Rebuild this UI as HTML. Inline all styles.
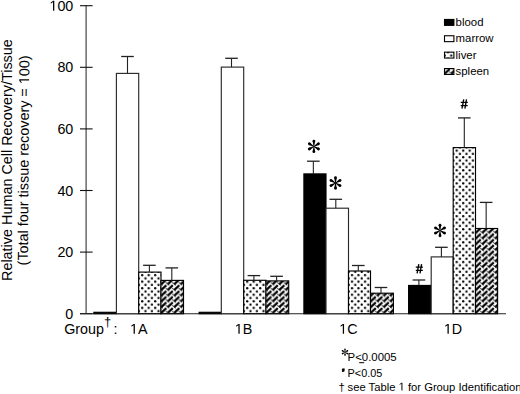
<!DOCTYPE html>
<html><head><meta charset="utf-8"><style>
html,body{margin:0;padding:0;background:#fff;width:520px;height:394px;overflow:hidden}
svg{display:block}
.one{fill-opacity:0}
.t14{font-family:"Liberation Sans",sans-serif;font-size:14.3px;fill:#000}
.ttl{font-family:"Liberation Sans",sans-serif;font-size:14.4px;fill:#000}
.t11{font-family:"Liberation Sans",sans-serif;font-size:11.4px;fill:#000}
.t13{font-family:"Liberation Sans",sans-serif;font-size:13px;fill:#000}
</style></head><body>
<svg width="520" height="394" viewBox="0 0 520 394">
<defs><pattern id="p02" patternUnits="userSpaceOnUse" width="6.5" height="6.55" x="137.325" y="309.485"><circle cx="1.625" cy="1.64" r="1.15" fill="#000"/><circle cx="4.875" cy="4.915" r="1.15" fill="#000"/></pattern><pattern id="p03" patternUnits="userSpaceOnUse" width="6.5" height="5.72" x="161.000" y="307.980"><path d="M-8.20 -2.70 L-4.80 0.40 M-8.20 3.02 L-4.80 6.12 M-8.20 8.74 L-4.80 11.84 M-1.70 -2.70 L1.70 0.40 M-1.70 3.02 L1.70 6.12 M-1.70 8.74 L1.70 11.84 M4.80 -2.70 L8.20 0.40 M4.80 3.02 L8.20 6.12 M4.80 8.74 L8.20 11.84 " stroke="#444" stroke-width="1.0" fill="none"/><path d="M-6.20 -0.90 L-1.20 -5.60 M-6.20 4.82 L-1.20 0.12 M-6.20 10.54 L-1.20 5.84 M0.30 -0.90 L5.30 -5.60 M0.30 4.82 L5.30 0.12 M0.30 10.54 L5.30 5.84 M6.80 -0.90 L11.80 -5.60 M6.80 4.82 L11.80 0.12 M6.80 10.54 L11.80 5.84 " stroke="#000" stroke-width="2.15" fill="none"/></pattern><pattern id="p12" patternUnits="userSpaceOnUse" width="6.5" height="6.55" x="242.325" y="309.485"><circle cx="1.625" cy="1.64" r="1.15" fill="#000"/><circle cx="4.875" cy="4.915" r="1.15" fill="#000"/></pattern><pattern id="p13" patternUnits="userSpaceOnUse" width="6.5" height="5.72" x="266.000" y="307.980"><path d="M-8.20 -2.70 L-4.80 0.40 M-8.20 3.02 L-4.80 6.12 M-8.20 8.74 L-4.80 11.84 M-1.70 -2.70 L1.70 0.40 M-1.70 3.02 L1.70 6.12 M-1.70 8.74 L1.70 11.84 M4.80 -2.70 L8.20 0.40 M4.80 3.02 L8.20 6.12 M4.80 8.74 L8.20 11.84 " stroke="#444" stroke-width="1.0" fill="none"/><path d="M-6.20 -0.90 L-1.20 -5.60 M-6.20 4.82 L-1.20 0.12 M-6.20 10.54 L-1.20 5.84 M0.30 -0.90 L5.30 -5.60 M0.30 4.82 L5.30 0.12 M0.30 10.54 L5.30 5.84 M6.80 -0.90 L11.80 -5.60 M6.80 4.82 L11.80 0.12 M6.80 10.54 L11.80 5.84 " stroke="#000" stroke-width="2.15" fill="none"/></pattern><pattern id="p22" patternUnits="userSpaceOnUse" width="6.5" height="6.55" x="347.125" y="309.485"><circle cx="1.625" cy="1.64" r="1.15" fill="#000"/><circle cx="4.875" cy="4.915" r="1.15" fill="#000"/></pattern><pattern id="p23" patternUnits="userSpaceOnUse" width="6.5" height="5.72" x="370.500" y="307.980"><path d="M-8.20 -2.70 L-4.80 0.40 M-8.20 3.02 L-4.80 6.12 M-8.20 8.74 L-4.80 11.84 M-1.70 -2.70 L1.70 0.40 M-1.70 3.02 L1.70 6.12 M-1.70 8.74 L1.70 11.84 M4.80 -2.70 L8.20 0.40 M4.80 3.02 L8.20 6.12 M4.80 8.74 L8.20 11.84 " stroke="#444" stroke-width="1.0" fill="none"/><path d="M-6.20 -0.90 L-1.20 -5.60 M-6.20 4.82 L-1.20 0.12 M-6.20 10.54 L-1.20 5.84 M0.30 -0.90 L5.30 -5.60 M0.30 4.82 L5.30 0.12 M0.30 10.54 L5.30 5.84 M6.80 -0.90 L11.80 -5.60 M6.80 4.82 L11.80 0.12 M6.80 10.54 L11.80 5.84 " stroke="#000" stroke-width="2.15" fill="none"/></pattern><pattern id="p32" patternUnits="userSpaceOnUse" width="6.5" height="6.55" x="451.825" y="309.485"><circle cx="1.625" cy="1.64" r="1.15" fill="#000"/><circle cx="4.875" cy="4.915" r="1.15" fill="#000"/></pattern><pattern id="p33" patternUnits="userSpaceOnUse" width="6.5" height="5.72" x="475.500" y="307.980"><path d="M-8.20 -2.70 L-4.80 0.40 M-8.20 3.02 L-4.80 6.12 M-8.20 8.74 L-4.80 11.84 M-1.70 -2.70 L1.70 0.40 M-1.70 3.02 L1.70 6.12 M-1.70 8.74 L1.70 11.84 M4.80 -2.70 L8.20 0.40 M4.80 3.02 L8.20 6.12 M4.80 8.74 L8.20 11.84 " stroke="#444" stroke-width="1.0" fill="none"/><path d="M-6.20 -0.90 L-1.20 -5.60 M-6.20 4.82 L-1.20 0.12 M-6.20 10.54 L-1.20 5.84 M0.30 -0.90 L5.30 -5.60 M0.30 4.82 L5.30 0.12 M0.30 10.54 L5.30 5.84 M6.80 -0.90 L11.80 -5.60 M6.80 4.82 L11.80 0.12 M6.80 10.54 L11.80 5.84 " stroke="#000" stroke-width="2.15" fill="none"/></pattern><pattern id="pl3" patternUnits="userSpaceOnUse" width="6.5" height="6.55" x="443.125" y="53.835"><circle cx="1.625" cy="1.64" r="1.15" fill="#000"/><circle cx="4.875" cy="4.915" r="1.15" fill="#000"/></pattern><pattern id="pl4" patternUnits="userSpaceOnUse" width="6.5" height="5.72" x="444.500" y="68.730"><path d="M-8.20 -2.70 L-4.80 0.40 M-8.20 3.02 L-4.80 6.12 M-8.20 8.74 L-4.80 11.84 M-1.70 -2.70 L1.70 0.40 M-1.70 3.02 L1.70 6.12 M-1.70 8.74 L1.70 11.84 M4.80 -2.70 L8.20 0.40 M4.80 3.02 L8.20 6.12 M4.80 8.74 L8.20 11.84 " stroke="#444" stroke-width="1.0" fill="none"/><path d="M-6.20 -0.90 L-1.20 -5.60 M-6.20 4.82 L-1.20 0.12 M-6.20 10.54 L-1.20 5.84 M0.30 -0.90 L5.30 -5.60 M0.30 4.82 L5.30 0.12 M0.30 10.54 L5.30 5.84 M6.80 -0.90 L11.80 -5.60 M6.80 4.82 L11.80 0.12 M6.80 10.54 L11.80 5.84 " stroke="#000" stroke-width="2.15" fill="none"/></pattern></defs>

<defs>
 <g id="ast">
  <path d="M-0.3 0 L-1.25 -5.1 L1.25 -5.1 L0.3 0 Z"/><circle cx="0" cy="-5.3" r="1.4"/>
 </g>
</defs>
<line x1="86.1" y1="5.30" x2="86.1" y2="313.70" stroke="#333" stroke-width="1.1"/>
<line x1="80" y1="313.70" x2="92.6" y2="313.70" stroke="#111" stroke-width="1.1"/>
<text x="73.3" y="318.70" text-anchor="end" class="t14">0</text>
<line x1="80" y1="252.10" x2="92.6" y2="252.10" stroke="#111" stroke-width="1.1"/>
<text x="73.3" y="257.10" text-anchor="end" class="t14">20</text>
<line x1="80" y1="190.50" x2="92.6" y2="190.50" stroke="#111" stroke-width="1.1"/>
<text x="73.3" y="195.50" text-anchor="end" class="t14">40</text>
<line x1="80" y1="128.90" x2="92.6" y2="128.90" stroke="#111" stroke-width="1.1"/>
<text x="73.3" y="133.90" text-anchor="end" class="t14">60</text>
<line x1="80" y1="67.30" x2="92.6" y2="67.30" stroke="#111" stroke-width="1.1"/>
<text x="73.3" y="72.30" text-anchor="end" class="t14">80</text>
<line x1="80" y1="5.70" x2="92.6" y2="5.70" stroke="#111" stroke-width="1.1"/>
<text id="tx1" x="73.3" y="10.70" text-anchor="end" class="t14"><tspan class="one">1</tspan>00</text>
<line x1="80" y1="313.70" x2="506" y2="313.70" stroke="#222" stroke-width="1.1"/>
<rect x="93.90" y="312.30" width="22.50" height="1.40" fill="#fff"/>
<rect x="93.90" y="312.30" width="22.50" height="1.40" fill="#000" stroke="#000" stroke-width="1.15"/>
<rect x="116.40" y="73.40" width="22.30" height="240.30" fill="#fff"/>
<rect x="116.40" y="73.40" width="22.30" height="240.30" fill="#fff" stroke="#2a2a2a" stroke-width="1.15"/>
<line x1="127.50" y1="56.50" x2="127.50" y2="73.40" stroke="#222" stroke-width="1.1"/>
<line x1="121.20" y1="56.50" x2="133.80" y2="56.50" stroke="#222" stroke-width="1.3"/>
<rect x="138.70" y="272.10" width="22.30" height="41.60" fill="#fff"/>
<rect x="138.70" y="272.10" width="22.30" height="41.60" fill="url(#p02)" stroke="#000" stroke-width="1.15"/>
<line x1="149.40" y1="265.30" x2="149.40" y2="272.10" stroke="#222" stroke-width="1.1"/>
<line x1="143.10" y1="265.30" x2="155.70" y2="265.30" stroke="#222" stroke-width="1.3"/>
<rect x="161.00" y="280.40" width="22.50" height="33.30" fill="#fff"/>
<rect x="161.00" y="280.40" width="22.50" height="33.30" fill="url(#p03)" stroke="#000" stroke-width="1.15"/>
<line x1="171.80" y1="267.90" x2="171.80" y2="280.40" stroke="#222" stroke-width="1.1"/>
<line x1="165.50" y1="267.90" x2="178.10" y2="267.90" stroke="#222" stroke-width="1.3"/>
<rect x="199.10" y="312.30" width="22.20" height="1.40" fill="#fff"/>
<rect x="199.10" y="312.30" width="22.20" height="1.40" fill="#000" stroke="#000" stroke-width="1.15"/>
<rect x="221.30" y="67.10" width="22.40" height="246.60" fill="#fff"/>
<rect x="221.30" y="67.10" width="22.40" height="246.60" fill="#fff" stroke="#2a2a2a" stroke-width="1.15"/>
<line x1="231.50" y1="58.30" x2="231.50" y2="67.10" stroke="#222" stroke-width="1.1"/>
<line x1="225.20" y1="58.30" x2="237.80" y2="58.30" stroke="#222" stroke-width="1.3"/>
<rect x="243.70" y="280.30" width="22.30" height="33.40" fill="#fff"/>
<rect x="243.70" y="280.30" width="22.30" height="33.40" fill="url(#p12)" stroke="#000" stroke-width="1.15"/>
<line x1="253.90" y1="275.60" x2="253.90" y2="280.30" stroke="#222" stroke-width="1.1"/>
<line x1="247.60" y1="275.60" x2="260.20" y2="275.60" stroke="#222" stroke-width="1.3"/>
<rect x="266.00" y="280.90" width="22.70" height="32.80" fill="#fff"/>
<rect x="266.00" y="280.90" width="22.70" height="32.80" fill="url(#p13)" stroke="#000" stroke-width="1.15"/>
<line x1="276.60" y1="276.30" x2="276.60" y2="280.90" stroke="#222" stroke-width="1.1"/>
<line x1="270.30" y1="276.30" x2="282.90" y2="276.30" stroke="#222" stroke-width="1.3"/>
<rect x="303.90" y="173.90" width="22.10" height="139.80" fill="#fff"/>
<rect x="303.90" y="173.90" width="22.10" height="139.80" fill="#000" stroke="#000" stroke-width="1.15"/>
<line x1="313.35" y1="161.20" x2="313.35" y2="173.90" stroke="#222" stroke-width="1.1"/>
<line x1="307.05" y1="161.20" x2="319.65" y2="161.20" stroke="#222" stroke-width="1.3"/>
<rect x="326.00" y="208.20" width="22.50" height="105.50" fill="#fff"/>
<rect x="326.00" y="208.20" width="22.50" height="105.50" fill="#fff" stroke="#2a2a2a" stroke-width="1.15"/>
<line x1="335.80" y1="199.30" x2="335.80" y2="208.20" stroke="#222" stroke-width="1.1"/>
<line x1="329.50" y1="199.30" x2="342.10" y2="199.30" stroke="#222" stroke-width="1.3"/>
<rect x="348.50" y="271.00" width="22.00" height="42.70" fill="#fff"/>
<rect x="348.50" y="271.00" width="22.00" height="42.70" fill="url(#p22)" stroke="#000" stroke-width="1.15"/>
<line x1="358.30" y1="265.50" x2="358.30" y2="271.00" stroke="#222" stroke-width="1.1"/>
<line x1="352.00" y1="265.50" x2="364.60" y2="265.50" stroke="#222" stroke-width="1.3"/>
<rect x="370.50" y="293.20" width="22.90" height="20.50" fill="#fff"/>
<rect x="370.50" y="293.20" width="22.90" height="20.50" fill="url(#p23)" stroke="#000" stroke-width="1.15"/>
<line x1="381.00" y1="287.50" x2="381.00" y2="293.20" stroke="#222" stroke-width="1.1"/>
<line x1="374.70" y1="287.50" x2="387.30" y2="287.50" stroke="#222" stroke-width="1.3"/>
<rect x="408.60" y="285.45" width="22.60" height="28.25" fill="#fff"/>
<rect x="408.60" y="285.45" width="22.60" height="28.25" fill="#000" stroke="#000" stroke-width="1.15"/>
<line x1="418.90" y1="280.00" x2="418.90" y2="285.45" stroke="#222" stroke-width="1.1"/>
<line x1="412.60" y1="280.00" x2="425.20" y2="280.00" stroke="#222" stroke-width="1.3"/>
<rect x="431.20" y="256.90" width="22.00" height="56.80" fill="#fff"/>
<rect x="431.20" y="256.90" width="22.00" height="56.80" fill="#fff" stroke="#2a2a2a" stroke-width="1.15"/>
<line x1="441.40" y1="247.30" x2="441.40" y2="256.90" stroke="#222" stroke-width="1.1"/>
<line x1="435.10" y1="247.30" x2="447.70" y2="247.30" stroke="#222" stroke-width="1.3"/>
<rect x="453.20" y="147.60" width="22.30" height="166.10" fill="#fff"/>
<rect x="453.20" y="147.60" width="22.30" height="166.10" fill="url(#p32)" stroke="#000" stroke-width="1.15"/>
<line x1="464.30" y1="117.90" x2="464.30" y2="147.60" stroke="#222" stroke-width="1.1"/>
<line x1="458.00" y1="117.90" x2="470.60" y2="117.90" stroke="#222" stroke-width="1.3"/>
<rect x="475.50" y="228.50" width="22.10" height="85.20" fill="#fff"/>
<rect x="475.50" y="228.50" width="22.10" height="85.20" fill="url(#p33)" stroke="#000" stroke-width="1.15"/>
<line x1="486.15" y1="202.40" x2="486.15" y2="228.50" stroke="#222" stroke-width="1.1"/>
<line x1="479.85" y1="202.40" x2="492.45" y2="202.40" stroke="#222" stroke-width="1.3"/>
<g transform="translate(313.9,146.4) scale(1.0)" fill="#000"><use href="#ast" transform="rotate(0)"/><use href="#ast" transform="rotate(60)"/><use href="#ast" transform="rotate(120)"/><use href="#ast" transform="rotate(180)"/><use href="#ast" transform="rotate(240)"/><use href="#ast" transform="rotate(300)"/></g>
<g transform="translate(335.5,183.0) scale(1.0)" fill="#000"><use href="#ast" transform="rotate(0)"/><use href="#ast" transform="rotate(60)"/><use href="#ast" transform="rotate(120)"/><use href="#ast" transform="rotate(180)"/><use href="#ast" transform="rotate(240)"/><use href="#ast" transform="rotate(300)"/></g>
<g transform="translate(440.0,230.5) scale(1.0)" fill="#000"><use href="#ast" transform="rotate(0)"/><use href="#ast" transform="rotate(60)"/><use href="#ast" transform="rotate(120)"/><use href="#ast" transform="rotate(180)"/><use href="#ast" transform="rotate(240)"/><use href="#ast" transform="rotate(300)"/></g>
<g transform="translate(415.8,264.1) scale(1.0)"><path d="M3.0 0 L1.3 9.3 M5.8 0 L4.2 9.3 M0 3.0 L7.1 3.0 M0 6.2 L7.0 6.2" stroke="#000" stroke-width="1.35" fill="none"/></g>
<g transform="translate(460.7,99.4) scale(1.0)"><path d="M3.0 0 L1.3 9.3 M5.8 0 L4.2 9.3 M0 3.0 L7.1 3.0 M0 6.2 L7.0 6.2" stroke="#000" stroke-width="1.35" fill="none"/></g>
<rect x="444.5" y="19.45" width="9.4" height="5.9" fill="#000" stroke="#000" stroke-width="1.1"/>
<text x="455.6" y="25.60" class="t11">blood</text>
<rect x="444.5" y="35.75" width="9.4" height="5.9" fill="#fff" stroke="#000" stroke-width="1.1"/>
<text x="455.6" y="42.10" class="t11">marrow</text>
<rect x="444.5" y="52.15" width="9.4" height="5.9" fill="url(#pl3)" stroke="#000" stroke-width="1.1"/>
<text x="455.6" y="58.70" class="t11">liver</text>
<rect x="444.5" y="68.55" width="9.4" height="5.9" fill="url(#pl4)" stroke="#000" stroke-width="1.1"/>
<text x="455.6" y="75.20" class="t11">spleen</text>
<text x="64.2" y="333.8" class="t14">Group</text>
<text x="104.0" y="326.1" class="t13">&#8224;</text>
<text x="113.4" y="333.8" class="t14">:</text>
<text id="tx2" x="130.0" y="333.8" class="t14"><tspan class="one">1</tspan>A</text>
<text id="tx3" x="234.8" y="333.8" class="t14"><tspan class="one">1</tspan>B</text>
<text id="tx4" x="339.2" y="333.8" class="t14"><tspan class="one">1</tspan>C</text>
<text id="tx5" x="443.9" y="333.8" class="t14"><tspan class="one">1</tspan>D</text>
<text transform="translate(11.8,160.1) rotate(-90)" text-anchor="middle" class="ttl">Relative Human Cell Recovery/Tissue</text>
<text id="tx6" transform="translate(28.55,160.4) rotate(-89.6)" text-anchor="middle" class="ttl">(Total four tissue recovery = <tspan class="one">1</tspan>00)</text>
<g transform="translate(345.0,352.2) scale(0.55)" fill="#000"><use href="#ast" transform="rotate(0)"/><use href="#ast" transform="rotate(60)"/><use href="#ast" transform="rotate(120)"/><use href="#ast" transform="rotate(180)"/><use href="#ast" transform="rotate(240)"/><use href="#ast" transform="rotate(300)"/></g>
<text x="347.6" y="360.6" class="t11">P&lt;0.0005</text>
<line x1="359.2" y1="362.7" x2="364.2" y2="362.7" stroke="#000" stroke-width="1"/>
<g transform="translate(341.9,368.3) scale(0.39)"><path d="M3.0 0 L1.3 9.3 M5.8 0 L4.2 9.3 M0 3.0 L7.1 3.0 M0 6.2 L7.0 6.2" stroke="#000" stroke-width="2.6" fill="none"/></g>
<text x="347.6" y="376.7" class="t11" textLength="34.6" lengthAdjust="spacingAndGlyphs">P&lt;0.05</text>
<text x="338.4" y="390.5" class="t11">&#8224;</text>
<text id="tx7" x="347.6" y="390.5" class="t11" textLength="173.9" lengthAdjust="spacingAndGlyphs">see Table <tspan class="one">1</tspan> for Group Identification</text>
<path transform="translate(49.441,10.700) scale(0.006982,-0.006982)" d="M515 0 L515 1237 L197 1010 L197 1180 L530 1409 L696 1409 L696 0 Z" fill="#000"/>
<path transform="translate(130.000,333.800) scale(0.006982,-0.006982)" d="M515 0 L515 1237 L197 1010 L197 1180 L530 1409 L696 1409 L696 0 Z" fill="#000"/>
<path transform="translate(234.800,333.800) scale(0.006982,-0.006982)" d="M515 0 L515 1237 L197 1010 L197 1180 L530 1409 L696 1409 L696 0 Z" fill="#000"/>
<path transform="translate(339.200,333.800) scale(0.006982,-0.006982)" d="M515 0 L515 1237 L197 1010 L197 1180 L530 1409 L696 1409 L696 0 Z" fill="#000"/>
<path transform="translate(443.900,333.800) scale(0.006982,-0.006982)" d="M515 0 L515 1237 L197 1010 L197 1180 L530 1409 L696 1409 L696 0 Z" fill="#000"/>
<path transform="translate(28.55,160.4) rotate(-89.6) translate(76.164,0.000) scale(0.007031,-0.007031)" d="M515 0 L515 1237 L197 1010 L197 1180 L530 1409 L696 1409 L696 0 Z" fill="#000"/>
<path transform="translate(398.566,390.500) scale(0.005566,-0.005566)" d="M515 0 L515 1237 L197 1010 L197 1180 L530 1409 L696 1409 L696 0 Z" fill="#000"/>

</svg>
</body></html>
